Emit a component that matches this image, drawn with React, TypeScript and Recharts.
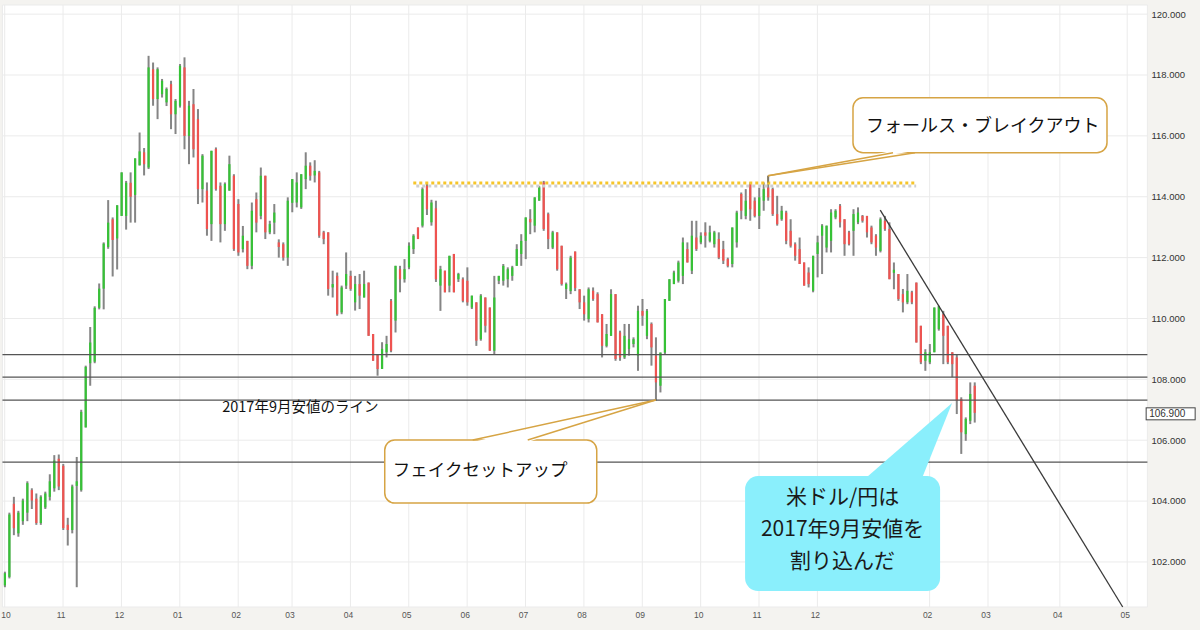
import {
  ComposedChart,
  Bar,
  XAxis,
  YAxis,
  CartesianGrid,
  ReferenceLine,
  ReferenceDot,
} from 'recharts';

// USD/JPY bars, Oct 2016 - Feb 2018
const opens = [
  101.23, 101.51, 103.91, 102.94, 103.34, 103.62, 104.36, 104.08, 103.28, 103.79,
  104.14, 104.42, 105.39, 105.16, 103.22, 103.05, 104.5, 104.36, 106.42, 108.53,
  108.58, 110.35, 110.98, 112.35, 113.26, 112.63, 113.37, 113.37, 114.46, 114.06,
  115.03, 115.46, 114.96, 118.19, 117.21, 117.37, 117.1, 117.7, 116.71, 116.99,
  118.25, 116.0, 117.04, 116.55, 114.25, 114.2, 113.1, 115.57, 114.36, 113.1,
  114.2, 114.69, 113.76, 112.28, 112.55, 111.73, 113.92, 113.37, 114.69, 112.83,
  113.15, 112.5, 112.44, 112.0, 113.8, 113.81, 113.65, 114.58, 115.02, 114.7,
  114.8, 112.83, 112.83, 111.02, 111.4, 110.2, 111.08, 111.4, 110.53, 111.13,
  110.69, 111.18, 109.49, 108.83, 108.34, 108.89, 110.58, 109.93, 111.62, 111.29,
  111.68, 112.28, 112.99, 113.05, 114.36, 113.16, 113.62, 111.08, 111.57, 111.08,
  112.12, 111.29, 111.29, 111.24, 110.36, 110.53, 109.32, 110.69, 110.36, 108.94,
  111.24, 111.24, 111.29, 111.4, 111.73, 112.12, 112.55, 113.27, 113.05, 113.87,
  114.47, 113.43, 112.33, 112.83, 112.39, 110.97, 110.9, 112.2, 110.96, 110.53,
  109.98, 110.91, 110.8, 110.14, 109.1, 109.43, 110.8, 109.54, 108.72, 109.0,
  109.16, 108.78, 110.25, 109.43, 109.82, 108.78, 107.79, 108.88, 110.58, 111.13,
  111.24, 111.4, 112.28, 111.57, 112.66, 112.5, 112.83, 112.55, 112.44, 112.61,
  112.28, 111.95, 111.79, 112.5, 114.09, 113.37, 114.41, 113.87, 113.37, 113.87,
  114.3, 114.25, 113.43, 113.26, 113.48, 112.88, 112.44, 112.28, 111.84, 111.51,
  110.91, 112.12, 112.72, 112.33, 112.55, 113.32, 113.7, 113.26, 112.83, 112.88,
  113.16, 113.37, 113.37, 112.99, 112.72, 112.22, 113.21, 112.94, 111.5, 111.46,
  110.8, 110.53, 110.86, 111.18, 109.76, 108.61, 108.56, 108.89, 109.65, 110.14,
  109.76, 108.89, 108.72, 107.35, 106.2, 106.64, 107.79,
];

const highs = [
  101.68, 103.62, 104.14, 103.68, 104.08, 104.65, 104.42, 104.25, 104.19, 104.31,
  104.88, 105.51, 105.53, 105.22, 103.45, 104.54, 105.45, 107.0, 108.45, 109.72,
  110.4, 111.15, 112.5, 113.89, 113.32, 113.72, 114.8, 114.52, 114.8, 115.26,
  116.11, 115.6, 118.63, 118.41, 118.25, 117.87, 117.59, 117.81, 117.21, 118.36,
  118.58, 117.15, 117.54, 116.88, 115.4, 114.47, 115.51, 115.62, 114.47, 114.47,
  115.35, 114.74, 113.92, 113.04, 112.55, 113.81, 114.14, 114.96, 114.69, 113.21,
  113.76, 112.6, 112.5, 113.98, 114.58, 114.8, 114.74, 115.46, 115.13, 115.2,
  114.85, 112.88, 112.83, 111.57, 111.51, 111.08, 112.17, 111.57, 111.4, 111.46,
  111.57, 111.18, 109.49, 108.83, 109.22, 109.43, 110.64, 111.73, 111.73, 111.95,
  112.5, 112.77, 112.99, 114.31, 114.46, 113.9, 113.87, 111.73, 111.57, 112.06,
  112.12, 111.5, 111.35, 111.68, 110.75, 110.53, 110.8, 110.69, 110.36, 111.4,
  111.4, 111.79, 111.68, 111.73, 112.44, 112.77, 113.32, 113.59, 113.98, 114.36,
  114.52, 113.48, 112.88, 112.83, 112.39, 111.18, 112.06, 112.2, 110.96, 110.75,
  111.02, 111.02, 110.86, 110.14, 109.82, 110.96, 110.8, 109.6, 109.82, 109.82,
  109.38, 110.42, 110.64, 110.31, 109.87, 109.38, 108.88, 110.64, 111.29, 111.57,
  111.9, 112.66, 112.5, 113.21, 113.21, 112.83, 113.16, 113.05, 112.88, 112.83,
  112.55, 112.0, 112.99, 113.54, 114.14, 114.25, 114.47, 113.98, 114.3, 114.47,
  114.69, 114.3, 114.03, 113.7, 113.54, 113.26, 112.5, 112.66, 111.84, 111.68,
  112.06, 112.72, 113.1, 113.05, 113.59, 113.59, 113.76, 113.26, 112.88, 113.59,
  113.65, 113.4, 113.37, 113.05, 112.77, 113.32, 113.37, 113.16, 111.84, 111.46,
  110.97, 111.46, 110.91, 111.18, 109.76, 108.99, 109.16, 110.36, 110.42, 110.25,
  109.76, 108.89, 108.83, 107.41, 106.75, 107.9, 107.9,
];

const lows = [
  101.17, 101.46, 102.88, 102.83, 103.22, 103.34, 103.74, 103.22, 103.22, 103.74,
  104.02, 104.31, 104.36, 103.05, 102.54, 102.94, 101.17, 104.31, 106.42, 107.79,
  108.53, 110.3, 110.3, 112.29, 111.38, 111.61, 113.37, 112.92, 113.15, 113.15,
  115.03, 114.7, 114.91, 116.99, 116.55, 117.26, 116.98, 116.22, 116.06, 116.93,
  115.56, 115.07, 115.29, 113.76, 113.81, 112.72, 112.55, 114.2, 112.5, 112.88,
  114.2, 112.22, 112.06, 112.17, 111.62, 111.62, 112.83, 113.26, 112.61, 112.77,
  112.77, 112.0, 111.9, 111.73, 113.49, 113.65, 113.6, 114.25, 114.53, 114.47,
  112.65, 112.44, 110.75, 110.69, 110.09, 110.14, 110.97, 110.91, 110.26, 110.31,
  110.69, 109.43, 108.61, 108.12, 108.34, 108.72, 108.89, 109.54, 110.86, 111.18,
  111.62, 112.12, 112.61, 112.99, 113.4, 113.05, 111.2, 110.25, 110.86, 110.86,
  110.86, 111.2, 110.53, 110.42, 110.31, 109.1, 109.27, 109.54, 108.94, 108.83,
  111.13, 111.08, 111.02, 111.24, 111.73, 111.73, 111.95, 112.77, 112.83, 113.87,
  112.88, 112.28, 112.28, 111.57, 111.08, 110.64, 110.8, 110.9, 110.31, 109.93,
  109.87, 110.58, 109.87, 108.72, 109.05, 109.43, 108.61, 108.61, 108.67, 108.78,
  109.05, 108.28, 109.76, 109.32, 108.45, 107.3, 107.57, 108.83, 110.58, 111.13,
  111.18, 111.13, 111.84, 111.46, 112.22, 112.44, 112.33, 112.5, 112.33, 111.95,
  111.79, 111.68, 111.68, 112.33, 113.26, 113.26, 113.21, 113.32, 112.94, 113.54,
  113.87, 113.37, 113.05, 113.21, 112.44, 112.33, 111.9, 111.79, 111.08, 111.02,
  110.86, 111.35, 111.46, 112.17, 112.17, 113.26, 112.99, 112.06, 112.4, 112.06,
  113.1, 113.15, 112.66, 112.44, 112.06, 112.17, 112.88, 111.29, 110.96, 110.58,
  110.2, 110.47, 110.47, 109.21, 108.5, 108.28, 108.5, 108.89, 109.6, 108.5,
  108.5, 108.07, 106.86, 105.55, 105.98, 106.53, 106.58,
];

const closes = [
  101.63, 103.56, 103.11, 103.62, 104.02, 104.59, 104.02, 103.28, 104.14, 104.25,
  104.65, 105.33, 104.48, 103.11, 103.05, 104.48, 104.65, 106.93, 108.41, 109.21,
  110.35, 110.98, 112.46, 113.15, 112.58, 113.72, 114.8, 114.46, 114.0, 115.26,
  115.49, 115.07, 118.25, 117.21, 118.19, 117.81, 117.54, 116.71, 117.15, 118.3,
  116.0, 116.99, 115.56, 114.25, 115.35, 112.94, 115.51, 114.25, 113.1, 114.42,
  115.07, 112.28, 112.17, 112.72, 111.73, 113.54, 113.15, 114.69, 112.83, 113.1,
  113.48, 112.35, 112.0, 113.87, 114.58, 114.47, 114.74, 115.02, 114.69, 114.85,
  112.72, 112.61, 110.97, 111.13, 110.14, 111.02, 111.46, 110.97, 111.13, 110.75,
  111.13, 109.43, 108.61, 108.34, 109.0, 109.16, 108.94, 111.73, 111.29, 111.62,
  112.39, 112.72, 112.61, 114.25, 113.59, 113.81, 111.29, 111.62, 110.86, 112.06,
  110.86, 111.46, 110.58, 110.53, 110.75, 109.27, 110.75, 109.76, 108.94, 110.69,
  111.4, 111.73, 111.62, 111.68, 112.28, 112.55, 113.32, 113.16, 113.98, 114.31,
  112.94, 112.61, 112.83, 111.62, 111.13, 111.13, 112.0, 111.0, 110.53, 110.14,
  110.96, 110.64, 109.87, 109.1, 109.49, 110.8, 108.67, 108.72, 109.43, 109.32,
  109.32, 110.25, 110.09, 110.25, 109.05, 107.9, 108.88, 110.64, 111.29, 111.51,
  111.84, 112.5, 111.84, 112.72, 112.28, 112.72, 112.72, 112.83, 112.83, 112.0,
  111.9, 111.73, 112.99, 113.48, 113.54, 113.87, 113.59, 113.37, 113.98, 114.25,
  113.98, 113.43, 113.1, 113.54, 112.55, 112.39, 112.06, 111.79, 111.08, 111.13,
  112.06, 112.5, 113.05, 113.05, 113.48, 113.54, 113.16, 112.44, 112.44, 113.43,
  113.48, 113.21, 112.83, 112.5, 112.33, 113.26, 112.94, 111.29, 111.6, 110.64,
  110.53, 110.91, 110.53, 109.21, 108.56, 108.89, 108.89, 110.36, 110.4, 109.43,
  108.56, 108.5, 107.3, 106.26, 106.7, 107.52, 106.9,
];

// x slots (one per bar, plus empty room on the right up to May)
const TOTAL_SLOTS = 255;
const monthTicks = [1, 14, 27, 40, 53, 65, 78, 91, 104, 117, 130, 143, 156, 169, 182, 207, 220, 236, 251];
const monthLabels = ['10', '11', '12', '01', '02', '03', '04', '05', '06', '07', '08', '09', '10', '11', '12', '02', '03', '04', '05'];
const priceTicks = [102, 104, 106, 108, 110, 112, 114, 116, 118, 120];

const supportLevels = [108.81, 108.07, 107.32, 105.28];
const resistance = { from: 92, to: 204, price: 114.45 };
const trendline = { from: 196, fromPrice: 113.56, to: 250, toPrice: 100.52 };
const lastPrice = 106.9;

const rows = Array.from({ length: TOTAL_SLOTS }, (_, k) => {
  const i = k + 1;
  if (k >= opens.length) return { i };
  return { i, o: opens[k], h: highs[k], l: lows[k], c: closes[k], range: [lows[k], highs[k]] };
});

const JP = "'Noto Sans CJK JP', 'Noto Sans', sans-serif";
const GOLD = '#d6a444';

function Candle(props: any) {
  const { x, y, width, height, payload } = props;
  if (!payload || payload.o == null) return null;
  const { o, h, l, c } = payload;
  const top = Math.min(y, y + height);
  const span = Math.abs(height);
  const k = h - l > 0 ? span / (h - l) : 0;
  const mid = x + width / 2;
  const yO = top + (h - o) * k;
  const yC = top + (h - c) * k;
  const up = c >= o;
  return (
    <g>
      <rect x={mid - 1} y={top} width={2} height={Math.max(span, 1)} fill="#858585" />
      <rect
        x={mid - 1.1}
        y={Math.min(yO, yC)}
        width={2.2}
        height={Math.max(1, Math.abs(yO - yC))}
        fill={up ? '#36c236' : '#ef5350'}
      />
    </g>
  );
}

function MonthTick({ x, y, payload }: any) {
  const label = monthLabels[monthTicks.indexOf(payload.value)] ?? '';
  return (
    <text x={Math.max(x - 2, 6)} y={y + 6.5} textAnchor="middle" fontSize={8.5} fill="#555">
      {label}
    </text>
  );
}

function BreakoutNote({ cx, cy }: any) {
  const bx = cx + 85;
  const by = cy - 78;
  return (
    <g>
      <line x1={cx} y1={cy} x2={cx} y2={cy + 7} stroke="#7d6b45" strokeWidth={1} />
      <rect x={bx} y={by} width={254} height={55} rx={10} fill="#fff" stroke={GOLD} strokeWidth={1.5} />
      <polygon points={`${cx},${cy} ${cx + 125},${cy - 25} ${cx + 147},${cy - 25}`} fill="#fff" />
      <line x1={cx} y1={cy} x2={cx + 125} y2={cy - 23} stroke={GOLD} strokeWidth={1.5} />
      <line x1={cx} y1={cy} x2={cx + 147} y2={cy - 23} stroke={GOLD} strokeWidth={1.5} />
      <text x={bx + 13} y={by + 34} fontSize={18} fontFamily={JP} fill="#111">
        フォールス・ブレイクアウト
      </text>
    </g>
  );
}

function SetupNote({ cx, cy }: any) {
  const bx = cx - 271;
  const by = cy + 40;
  return (
    <g>
      <rect x={bx} y={by} width={212} height={63} rx={10} fill="#fff" stroke={GOLD} strokeWidth={1.5} />
      <polygon points={`${cx},${cy} ${cx - 183},${cy + 42} ${cx - 128},${cy + 42}`} fill="#fff" />
      <line x1={cx} y1={cy} x2={cx - 183} y2={cy + 40} stroke={GOLD} strokeWidth={1.5} />
      <line x1={cx} y1={cy} x2={cx - 128} y2={cy + 40} stroke={GOLD} strokeWidth={1.5} />
      <text x={bx + 8} y={by + 36} fontSize={17.5} fontFamily={JP} fill="#111">
        フェイクセットアップ
      </text>
    </g>
  );
}

function BreakNote({ cx, cy }: any) {
  const bx = cx - 207;
  const by = cy + 73;
  const tx = bx + 97.5;
  return (
    <g>
      <polygon points={`${cx},${cy} ${cx - 92},${cy + 80} ${cx - 32},${cy + 80}`} fill="#8aeffc" />
      <rect x={bx} y={by} width={195} height={115} rx={13} fill="#8aeffc" />
      <text x={tx} y={by + 28} fontSize={21} fontFamily={JP} fill="#1a1a1a" textAnchor="middle">
        米ドル/円は
      </text>
      <text x={tx} y={by + 60} fontSize={21} fontFamily={JP} fill="#1a1a1a" textAnchor="middle">
        2017年9月安値を
      </text>
      <text x={tx} y={by + 92} fontSize={21} fontFamily={JP} fill="#1a1a1a" textAnchor="middle">
        割り込んだ
      </text>
    </g>
  );
}

function LineNote({ cx, cy }: any) {
  return (
    <text x={cx + 2} y={cy + 12} fontSize={14.5} fontFamily={JP} fill="#111">
      2017年9月安値のライン
    </text>
  );
}

function PriceTag({ cx, cy }: any) {
  return (
    <g>
      <rect x={cx + 1} y={cy - 5} width={49} height={12} fill="#fff" stroke="#444" strokeWidth={1} />
      <text x={cx + 4} y={cy + 4.5} fontSize={10} fill="#333" fontFamily="'Liberation Sans', Arial, sans-serif">
        {lastPrice.toFixed(3)}
      </text>
    </g>
  );
}

export default function App() {
  return (
    <div
      style={{
        position: 'absolute',
        left: 0,
        top: 0,
        width: 1200,
        height: 630,
        background: '#f4f3f0',
        fontFamily: "'Liberation Sans', Arial, sans-serif",
      }}
    >
      <ComposedChart width={1200} height={630} data={rows} margin={{ top: 5, right: 0, bottom: 0, left: 2.45 }}>
        <CartesianGrid stroke="#ebebeb" fill="#fff" />
        <XAxis
          dataKey="i"
          type="category"
          ticks={monthTicks}
          interval={0}
          tickLine={false}
          axisLine={false}
          tickSize={0}
          tickMargin={4}
          height={23}
          tick={(p: any) => <MonthTick {...p} />}
        />
        <YAxis
          orientation="right"
          type="number"
          domain={[100.52, 120.3]}
          ticks={priceTicks}
          allowDataOverflow
          tickFormatter={(v: number) => v.toFixed(3)}
          width={52.6}
          tickLine={false}
          axisLine={false}
          tickSize={0}
          tickMargin={4}
          tick={{ fontSize: 9.5, fill: '#333' }}
        />
        <Bar dataKey="range" shape={(p: any) => <Candle {...p} />} isAnimationActive={false} />
        {supportLevels.map((v) => (
          <ReferenceLine key={v} y={v} stroke="#555" strokeWidth={1.2} />
        ))}
        <ReferenceLine
          segment={[
            { x: resistance.from, y: resistance.price - 0.1 },
            { x: resistance.to, y: resistance.price - 0.1 },
          ]}
          stroke="#cfcfcf"
          strokeWidth={3}
          strokeDasharray="3 3"
          strokeDashoffset={3}
        />
        <ReferenceLine
          segment={[
            { x: resistance.from, y: resistance.price },
            { x: resistance.to, y: resistance.price },
          ]}
          stroke="#f6c52a"
          strokeWidth={3}
          strokeDasharray="3 3"
        />
        <ReferenceLine
          segment={[
            { x: trendline.from, y: trendline.fromPrice },
            { x: trendline.to, y: trendline.toPrice },
          ]}
          stroke="#3a3a3a"
          strokeWidth={1.3}
          ifOverflow="visible"
        />
        <ReferenceDot x={49} y={107.32} ifOverflow="visible" shape={(p: any) => <LineNote {...p} />} />
        <ReferenceDot x={171} y={114.69} ifOverflow="visible" shape={(p: any) => <BreakoutNote {...p} />} />
        <ReferenceDot x={146} y={107.32} ifOverflow="visible" shape={(p: any) => <SetupNote {...p} />} />
        <ReferenceDot x={212} y={107.22} ifOverflow="visible" shape={(p: any) => <BreakNote {...p} />} />
        <ReferenceDot x={TOTAL_SLOTS} y={lastPrice} ifOverflow="visible" shape={(p: any) => <PriceTag {...p} />} />
      </ComposedChart>
    </div>
  );
}
